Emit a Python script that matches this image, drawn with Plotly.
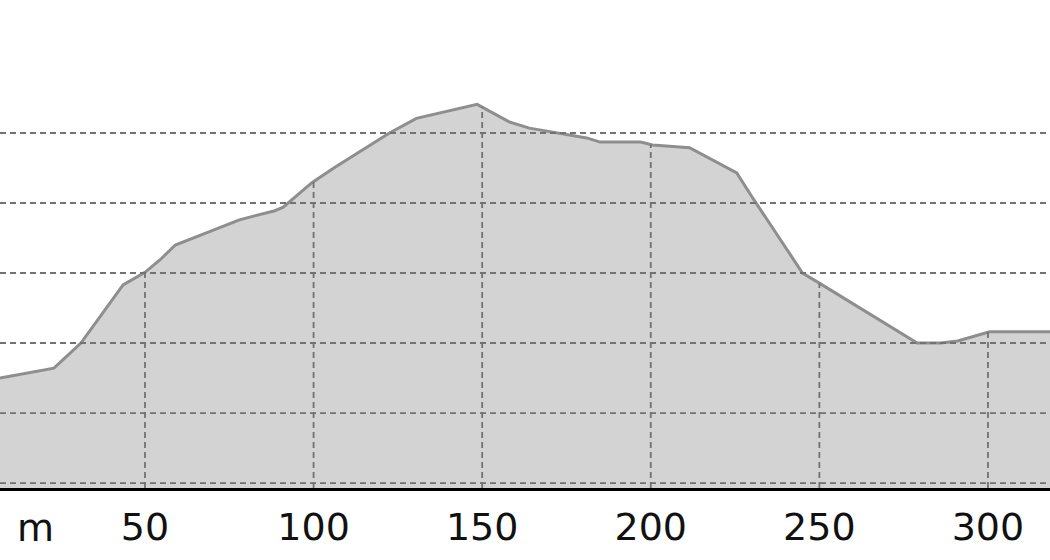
import numpy as np
import plotly.graph_objects as go

# Profile: distance (m) and elevation (m)
distance = [7, 23, 31, 43.5, 50, 54.5, 59, 68, 78, 88.5, 91, 99.5, 106, 122.5, 130.5,
            148.5, 158, 164, 181, 185, 197, 200.5, 211.5, 225.5, 230, 245, 249.5,
            279, 286, 291, 300.5, 318.5]
elevation = [215.0, 216.4, 220.0, 228.3, 230.1, 231.9, 234.0, 235.7, 237.6, 238.9, 239.4,
             242.9, 245.0, 250.0, 252.1, 254.1, 251.6, 250.7, 249.3, 248.7, 248.7, 248.3,
             247.9, 244.3, 240.9, 230.0, 228.7, 220.0, 220.0, 220.3, 221.6, 221.6]

x_ticks = [50, 100, 150, 200, 250, 300]
x_tick_labels = ["50", "100", "150", "200", "250", "300"]
y_grid = [200, 210, 220, 230, 240, 250]

x_range = [7.0, 318.4]
y_range = [199.29, 269.0]

grid_color = "#727272"
grid_dash = "6px,4px"

fig = go.Figure()
fig.add_trace(go.Scatter(
    x=distance, y=elevation, mode="lines",
    line=dict(color="#8e8e8e", width=3),
    fill="tozeroy", fillcolor="#d3d3d3",
    hoverinfo="skip", showlegend=False,
))

shapes = []
for gv in y_grid:
    shapes.append(dict(type="line", xref="paper", yref="y", x0=0, x1=1, y0=gv, y1=gv,
                       line=dict(color=grid_color, width=1.8, dash=grid_dash), layer="above"))
for tv in x_ticks:
    top = float(np.interp(tv, distance, elevation))
    shapes.append(dict(type="line", xref="x", yref="y", x0=tv, x1=tv, y0=y_range[0], y1=top,
                       line=dict(color=grid_color, width=1.8, dash=grid_dash), layer="above"))

fig.update_layout(
    width=1050, height=560,
    margin=dict(l=0, r=0, t=0, b=72),
    paper_bgcolor="white", plot_bgcolor="white",
    font=dict(family="DejaVu Sans", size=38, color="#111111"),
    shapes=shapes,
    xaxis=dict(range=x_range, tickmode="array", tickvals=x_ticks, ticktext=x_tick_labels,
               showgrid=False, zeroline=False, showline=True, linecolor="black", linewidth=2.5,
               ticks="", ticklabelstandoff=4, fixedrange=True),
    yaxis=dict(range=y_range, showgrid=False, zeroline=False, showticklabels=False,
               showline=False, fixedrange=True),
    annotations=[dict(text="m", xref="paper", yref="paper", x=35/1050, y=-40/488,
                      xanchor="center", yanchor="middle", showarrow=False,
                      font=dict(family="DejaVu Sans", size=38, color="#111111"))],
)

fig.write_html("out.html", config={"displayModeBar": False, "responsive": False},
               post_script="document.body.style.margin='0';document.body.style.padding='0';")
